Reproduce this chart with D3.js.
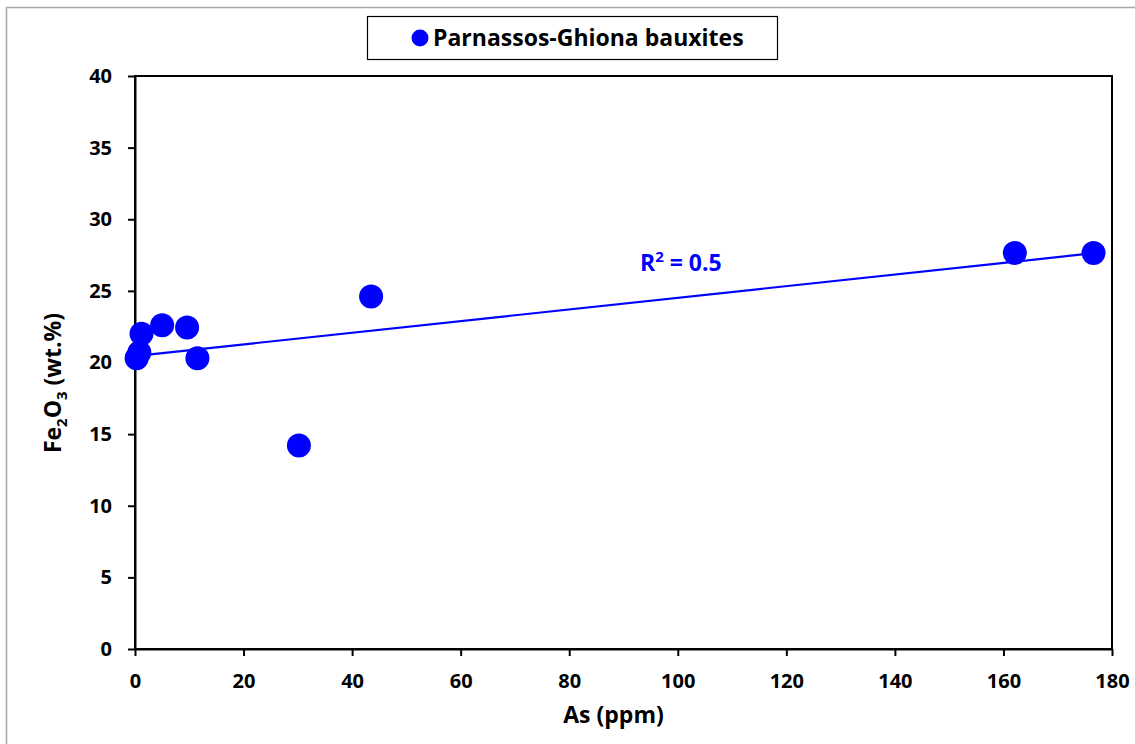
<!DOCTYPE html>
<html>
<head>
<meta charset="utf-8">
<script src="https://cdn.jsdelivr.net/npm/d3@7"></script>
<style>
	body { margin: 0; background: #fff; }
	svg text { font-family: "Open Sans", Lato, sans-serif; font-weight: bold; }
</style>
</head>
<body>
<svg id="chart" width="1135" height="744"></svg>
<script>
// data
var asPpm = [0.3, 0.8, 1.2, 5.0, 9.6, 11.5, 30.2, 43.5, 162.1, 176.6];
var fe2o3 = [20.3, 20.7, 22.0, 22.6, 22.45, 20.3, 14.2, 24.6, 27.65, 27.65];
var xTicks = [0, 20, 40, 60, 80, 100, 120, 140, 160, 180];
var yTicks = [0, 5, 10, 15, 20, 25, 30, 35, 40];
var seriesName = "Parnassos-Ghiona bauxites";

(function() {
	var blue = "#0000ff";
	var svg = d3.select("#chart");

	// outer chart frame
	svg.append("rect")
		.attr("x", 6.5).attr("y", 7.5)
		.attr("width", 1140).attr("height", 750)
		.attr("fill", "none").attr("stroke", "#a6a6a6").attr("stroke-width", 1.5);

	var pL = 135, pR = 1112, pT = 76, pB = 649;
	var x = d3.scaleLinear().domain([0, 180]).range([pL, pR]);
	var y = d3.scaleLinear().domain([0, 40]).range([pB, pT]);

	// plot area box
	svg.append("rect")
		.attr("x", pL).attr("y", pT)
		.attr("width", pR - pL).attr("height", pB - pT)
		.attr("fill", "none").attr("stroke", "#000").attr("stroke-width", 2);

	var xAxis = svg.append("g")
		.attr("transform", "translate(0," + pB + ")")
		.call(d3.axisBottom(x).tickValues(xTicks).tickSize(7).tickSizeOuter(0).tickPadding(18));
	var yAxis = svg.append("g")
		.attr("transform", "translate(" + pL + ",0)")
		.call(d3.axisLeft(y).tickValues(yTicks).tickSize(7).tickSizeOuter(0).tickPadding(16));

	[xAxis, yAxis].forEach(function(a) {
		a.select(".domain").attr("stroke", "#000").attr("stroke-width", 2);
		a.selectAll(".tick line").attr("stroke", "#000").attr("stroke-width", 2);
		a.selectAll(".tick text").attr("font-size", 20).attr("fill", "#000")
			.style("font-family", "'Open Sans', Lato, sans-serif").style("font-weight", "bold");
	});

	// axis titles
	svg.append("text")
		.attr("x", (pL + pR) / 2 - 10).attr("y", 723)
		.attr("text-anchor", "middle").attr("font-size", 23)
		.text("As (ppm)");

	var yl = svg.append("text")
		.attr("transform", "translate(61,383) rotate(-90)")
		.attr("text-anchor", "middle").attr("font-size", 23);
	yl.append("tspan").text("Fe");
	yl.append("tspan").attr("font-size", 15).attr("dy", 6).text("2");
	yl.append("tspan").attr("dy", -6).text("O");
	yl.append("tspan").attr("font-size", 15).attr("dy", 6).text("3");
	yl.append("tspan").attr("dy", -6).text(" (wt.%)");

	// linear trendline (least squares)
	var mx = d3.mean(asPpm), my = d3.mean(fe2o3);
	var sxy = d3.sum(asPpm, function(v, i) { return (v - mx) * (fe2o3[i] - my); });
	var sxx = d3.sum(asPpm, function(v) { return (v - mx) * (v - mx); });
	var syy = d3.sum(fe2o3, function(v) { return (v - my) * (v - my); });
	var slope = sxy / sxx, icpt = my - slope * mx;
	var r2 = sxy * sxy / (sxx * syy);
	var xs = d3.extent(asPpm);

	svg.append("line")
		.attr("x1", x(xs[0])).attr("y1", y(icpt + slope * xs[0]))
		.attr("x2", x(xs[1])).attr("y2", y(icpt + slope * xs[1]))
		.attr("stroke", blue).attr("stroke-width", 2.2);

	// points
	svg.append("g").selectAll("circle")
		.data(asPpm)
		.enter().append("circle")
		.attr("cx", function(d) { return x(d); })
		.attr("cy", function(d, i) { return y(fe2o3[i]); })
		.attr("r", 12)
		.attr("fill", blue);

	// R² label
	var rt = svg.append("text")
		.attr("x", 640).attr("y", 271)
		.attr("font-size", 23).attr("fill", blue);
	rt.append("tspan").text("R");
	rt.append("tspan").attr("font-size", 15).attr("dy", -9).text("2");
	rt.append("tspan").attr("dy", 9).text(" = " + d3.format(".1f")(r2));

	// legend
	svg.append("rect")
		.attr("x", 367.5).attr("y", 16.5)
		.attr("width", 410).attr("height", 43)
		.attr("fill", "#fff").attr("stroke", "#000").attr("stroke-width", 1.2);
	svg.append("circle")
		.attr("cx", 420).attr("cy", 38).attr("r", 8.5).attr("fill", blue);
	svg.append("text")
		.attr("x", 433).attr("y", 46)
		.attr("font-size", 23)
		.text(seriesName);
})();
</script>
</body>
</html>
